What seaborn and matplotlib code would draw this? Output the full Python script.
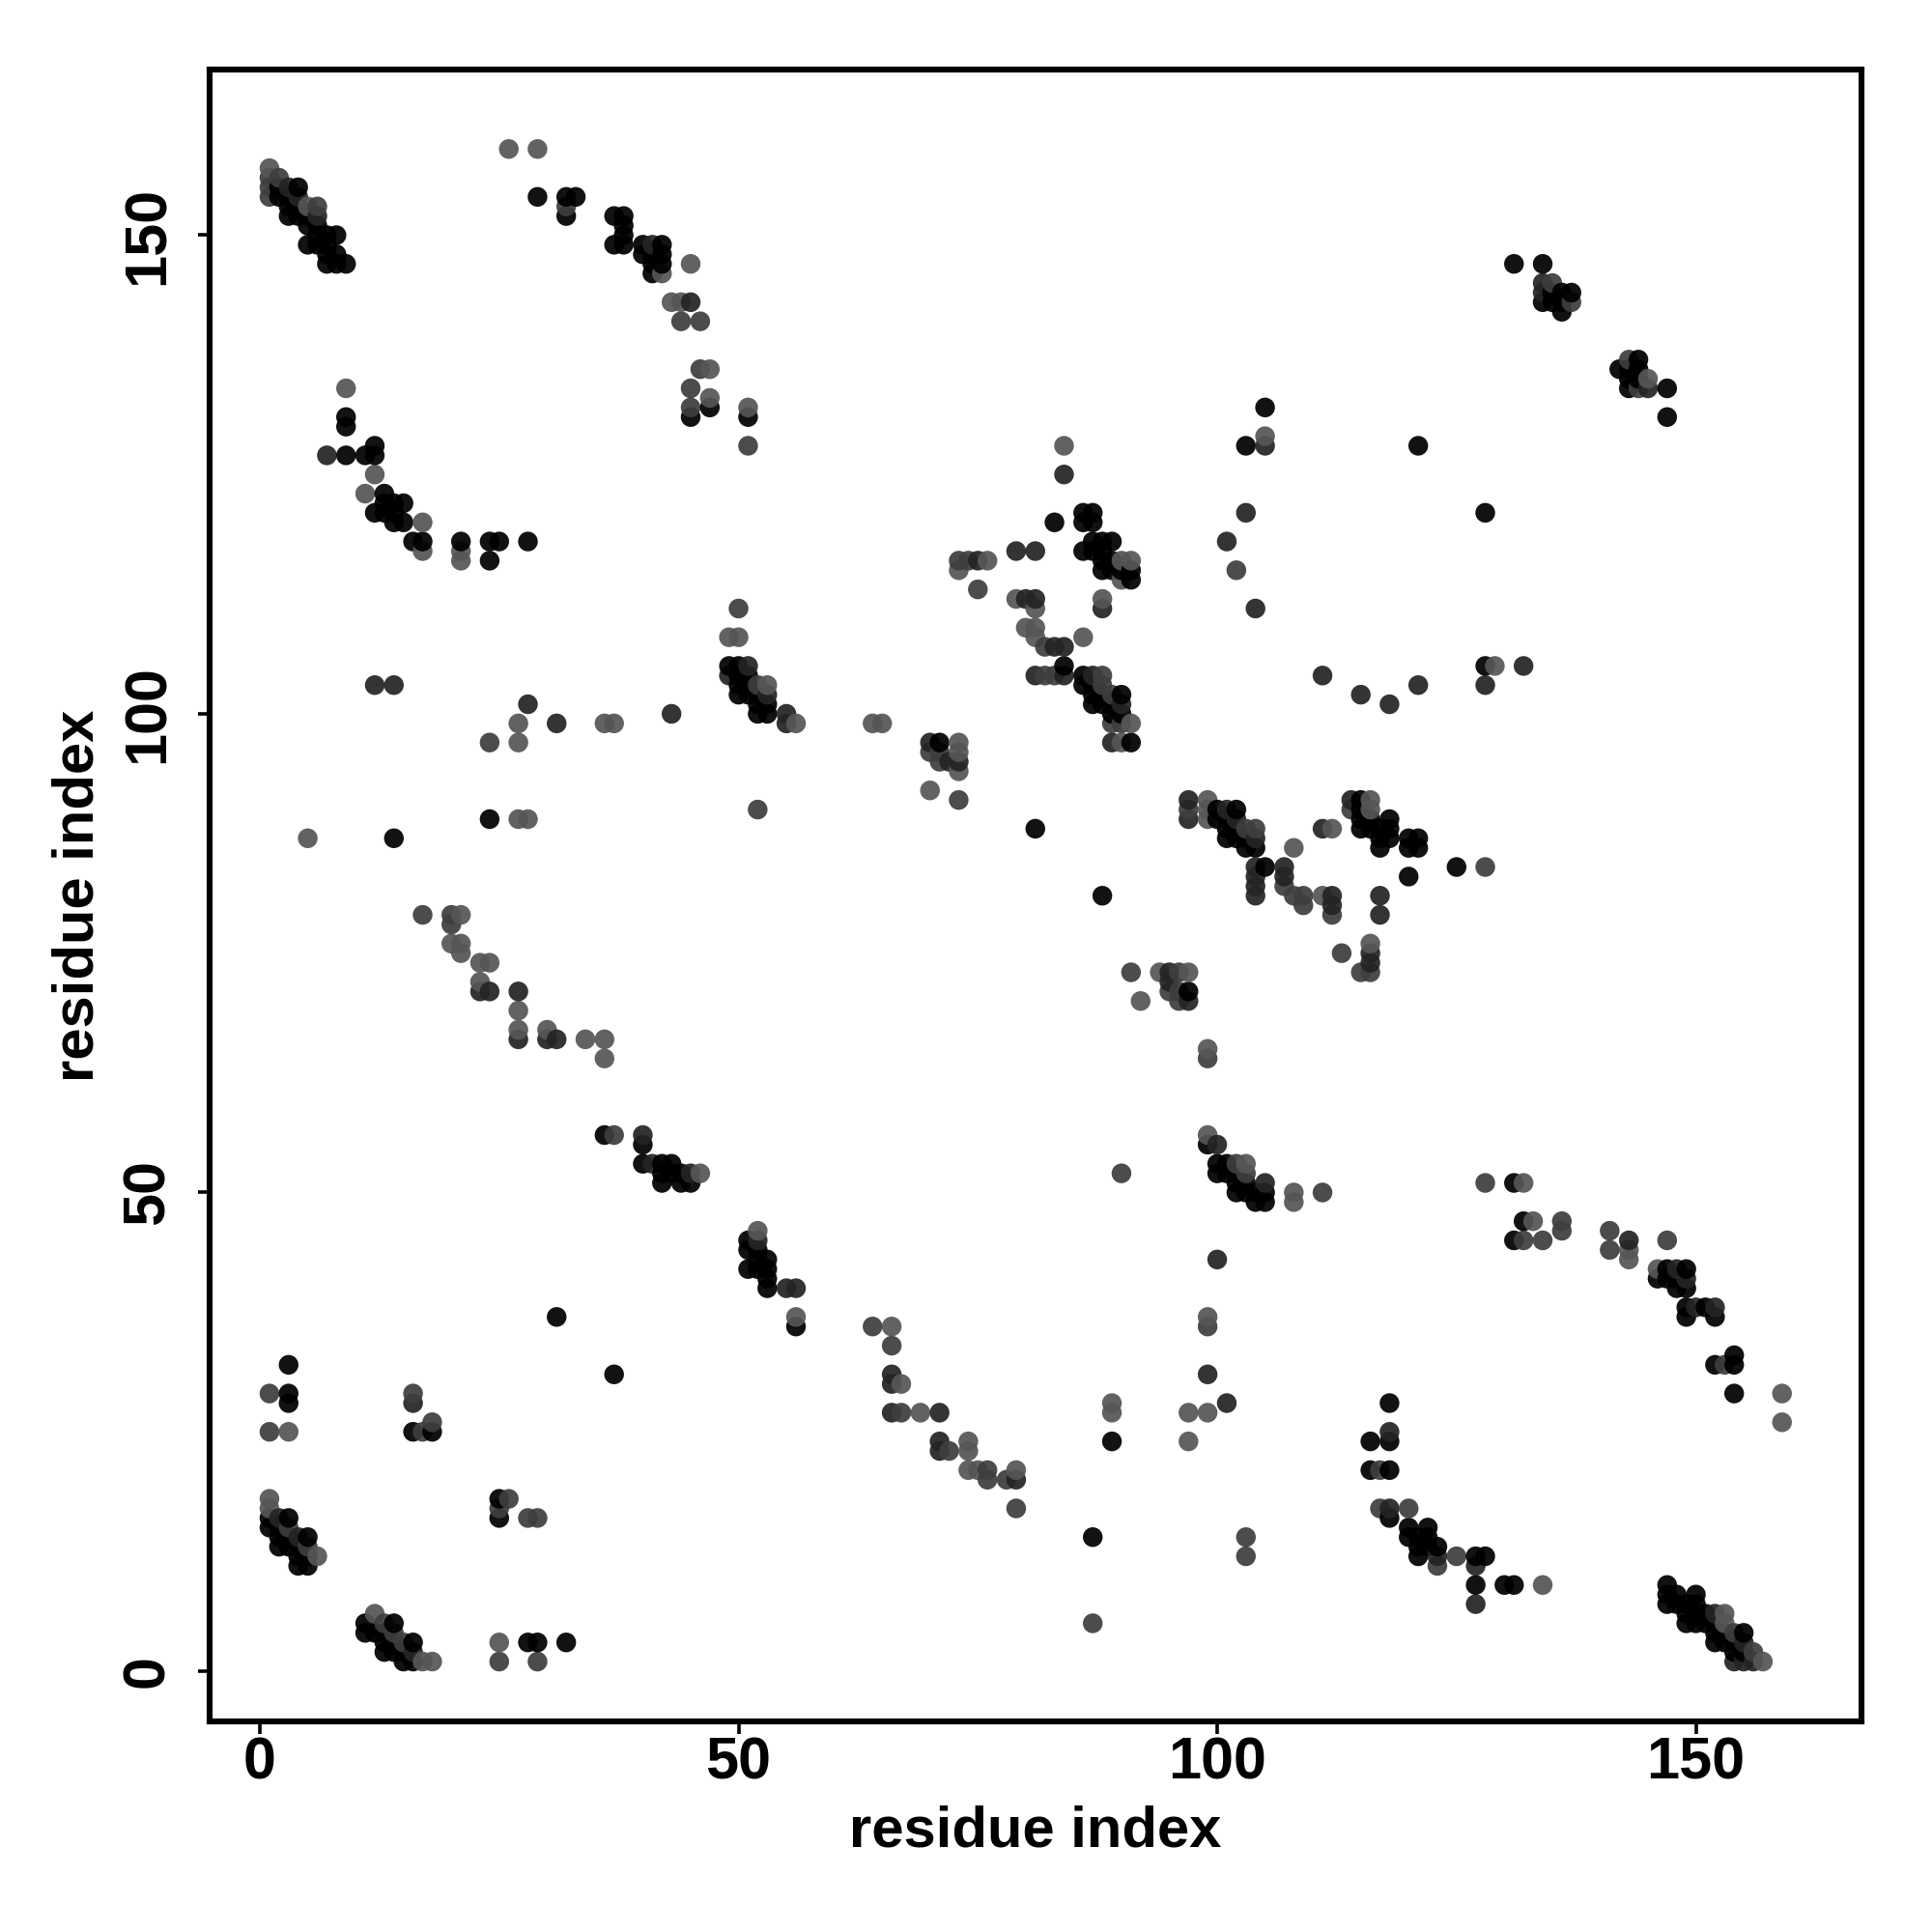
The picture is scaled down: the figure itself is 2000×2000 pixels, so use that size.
import pandas as pd
import seaborn as sns
from matplotlib import pyplot as plt

# contacts (residue i, residue j), one list per score level
dark_contacts = [
    (2,155),(2,154),(3,154),(3,153),(3,152),(4,155),(4,153),(4,152),(5,152),(5,151),(5,149),(6,151),(6,150),(6,149),
    (7,150),(7,149),(7,148),(7,147),(8,150),(8,148),(8,147),(9,147),
    (29,154),(32,154),(33,154),(32,152),(37,152),(38,152),(38,151),(38,150),(37,149),(38,149),
    (40,149),(40,148),(42,149),(42,148),(42,147),(41,148),(41,147),(41,146),(45,131),(47,132),(51,131),
    (9,131),(9,130),(9,127),(11,127),(12,127),(12,128),(13,123),(13,122),(14,122),(15,122),(12,121),(13,121),(14,121),(14,120),(15,120),
    (16,118),(17,118),(21,118),(24,118),(25,118),(28,118),(24,116),
    (86,121),(87,121),(86,120),(87,120),(83,120),(87,118),(88,118),(89,118),(86,117),(87,117),(88,117),(88,116),(89,116),
    (88,115),(89,115),(90,115),(91,115),(91,114),(84,105),(86,104),(86,103),(87,103),(87,102),(88,102),(87,101),(88,101),(89,101),
    (90,102),(89,100),(90,100),(91,97),
    (49,105),(50,105),(50,104),(51,104),(50,103),(51,103),(50,102),(51,102),(52,102),(52,101),(53,101),(52,100),(53,100),(71,97),
    (24,89),(14,87),(121,128),(128,121),(128,105),(103,128),(105,132),(81,88),(88,81),(89,24),(87,14),(37,31),(31,37),
    (36,56),(40,53),(42,53),(43,53),(42,52),(43,52),(44,52),(42,51),(44,51),(45,51),(40,55),
    (51,45),(51,44),(52,44),(52,43),(53,43),(51,42),(52,42),(53,42),(53,41),(53,40),(56,36),
    (3,32),(3,29),(3,28),(16,25),(18,25),(1,16),(1,15),(3,16),(2,15),(2,14),(3,14),(5,14),(2,13),(3,13),(4,13),(4,12),(5,12),(4,11),(5,11),
    (25,18),(25,16),(11,5),(14,5),(11,4),(12,4),(13,4),(13,3),(14,3),(16,3),(13,2),(14,2),(15,2),(15,1),(16,1),
    (28,3),(29,3),(32,3),
    (118,28),(118,24),(116,24),(118,21),(116,21),(118,16),(120,15),(122,15),(120,14),(121,14),(122,14),(121,13),(122,13),(123,13),(121,12),
    (127,12),(128,12),(127,9),(130,9),(131,9),
    (147,9),(147,8),(148,8),(150,8),(147,7),(148,7),(149,7),(150,7),(149,6),(150,6),(151,6),(149,5),(150,5),(151,5),(152,5),(152,4),(153,4),
    (155,4),(152,3),(153,3),(154,3),(154,2),(155,2),(154,29),(152,32),(154,33),(154,32),
    (99,55),(100,53),(100,52),(101,52),(102,52),(101,53),(102,51),(103,51),(102,50),(103,50),(104,50),(105,50),(104,49),(105,49),(131,51),(132,47),(131,45),
    (147,42),(149,42),(146,41),(147,41),(148,41),(148,40),(149,40),(149,38),(151,38),(149,37),(152,37),
    (100,90),(102,90),(100,89),(101,89),(101,88),(102,88),(101,87),(102,87),(103,87),(103,86),(104,86),(105,84),
    (115,91),(115,90),(115,89),(116,89),(118,89),(115,88),(116,88),(117,88),(118,88),(117,87),(118,87),(117,86),
    (120,87),(121,87),(120,86),(121,86),(125,84),(120,83),(97,71),
    (131,147),(134,147),(134,143),(135,144),(135,143),(136,144),(137,144),(136,143),(136,142),
    (142,136),(144,137),(143,136),(144,136),(143,135),(144,135),(143,134),(147,134),(147,131),
]
mid_contacts = [
    (3,155),(4,154),(6,152),(45,143),(41,149),
    (7,127),(84,125),(79,117),(81,117),(75,116),(80,112),(81,112),(88,111),(83,107),(84,107),(81,104),(84,104),(87,104),(90,101),
    (89,97),(51,105),(49,104),(53,102),(55,100),(55,99),(43,100),(70,97),(72,95),(73,95),
    (12,103),(14,103),(31,99),(28,101),(104,84),(104,83),(104,82),(104,81),(107,84),(107,83),(112,81),(112,80),(111,88),
    (114,91),(97,91),(97,89),(101,90),(102,89),(104,87),(117,81),(117,79),(116,75),(116,74),(95,73),(95,72),(97,70),
    (27,71),(24,71),(23,71),(30,66),(31,66),(27,66),
    (40,56),(41,53),(45,52),(52,45),(55,40),(56,40),(66,31),(66,30),(66,27),(71,27),(71,24),(71,23),(79,20),
    (100,43),(99,31),(101,28),(16,28),(2,16),(4,14),(127,11),(123,12),(118,25),(118,17),(127,7),(16,2),(154,1),(155,1),(156,1),(155,3),(152,6),
    (100,55),(105,51),(143,45),(148,42),(150,38),(152,38),(149,41),(145,134),(134,145),(134,144),(101,118),(103,121),(104,111),(105,128),
    (111,104),(115,102),(118,101),(121,103),(128,103),(132,105),
]
medium_contacts = [
    (1,156),(1,155),(1,154),(2,156),(6,153),(32,153),(46,141),(44,141),(46,136),(45,134),(45,132),(51,128),
    (74,116),(73,116),(75,113),(82,107),(82,104),(83,104),(88,104),(88,103),(89,102),(89,99),(90,99),(50,111),(52,103),
    (70,96),(71,96),(71,95),(73,91),(52,90),(24,97),(97,90),(103,88),(104,88),(107,82),(108,81),(109,81),(109,80),(112,79),(128,84),
    (114,90),(113,75),(116,73),(115,73),(96,73),(95,71),(96,71),(96,70),(17,79),(20,79),(20,78),(37,56),(66,34),(64,36),(76,21),(76,20),(78,20),(72,23),(67,27),(79,17),
    (1,29),(1,25),(16,29),(17,25),(18,26),(26,18),(25,17),(28,16),(29,16),(3,15),(5,13),(13,5),(14,4),(15,3),(156,2),(154,4),(25,1),(29,1),
    (117,21),(117,17),(120,17),(125,12),(123,11),(87,5),(103,14),(103,12),(90,52),(99,36),
    (128,51),(132,45),(134,45),(136,46),(136,47),(141,46),(141,44),(147,45),(153,32),(111,50),(102,53),(103,52),
    (135,145),(137,143),(143,137),(144,134),(102,115),(91,73),(99,64),(86,108),
]
light_contacts = [
    (1,157),(5,153),(26,159),(29,159),(9,134),(12,125),(11,123),(42,146),(45,147),(43,143),(44,143),(47,136),(47,133),(51,132),(17,120),(17,117),(21,117),(21,116),
    (84,128),(76,116),(73,115),(90,116),(91,116),(90,114),(88,112),(79,112),(81,111),(80,109),(81,109),(81,108),(86,108),(90,97),(91,99),
    (53,103),(49,108),(50,108),(56,99),(64,99),(65,99),(73,97),(73,96),(73,94),(70,92),
    (27,97),(27,99),(36,99),(37,99),(27,89),(28,89),(5,87),
    (99,91),(99,90),(99,89),(108,86),(111,81),(112,88),(116,91),(116,90),(116,76),(94,73),(97,73),(92,70),(99,65),(129,105),(105,129),
    (21,79),(20,76),(21,76),(21,75),(23,74),(24,74),(23,72),(27,69),(27,67),(30,67),(34,66),(36,66),(36,64),
    (46,52),(52,46),(56,37),(66,36),(67,30),(69,27),(74,24),(74,23),(74,21),(75,21),(79,21),
    (3,25),(1,18),(1,17),(6,12),(12,6),(17,1),(18,1),(25,3),(134,9),(157,1),(153,6),(153,5),(159,29),(159,26),
    (99,56),(103,53),(108,50),(108,49),(133,47),(132,51),(143,44),(143,43),(146,42),(145,135),(99,37),(97,27),(99,27),(97,24),(89,28),(89,27),
]

level_names = ['dark', 'mid', 'medium', 'light']
level_colors = {'dark': '#000000', 'mid': '#242424', 'medium': '#3e3e3e', 'light': '#565656'}

rows = []
for name, contacts in zip(level_names, [dark_contacts, mid_contacts, medium_contacts, light_contacts]):
    for i, j in contacts:
        rows.append((i, j, name))
df = pd.DataFrame(rows, columns=['i', 'j', 'level'])
df = df.drop_duplicates(['i', 'j'], keep='last').sort_values(['i', 'j'])

sns.set_style('white')
plt.rcParams['font.family'] = ['Liberation Sans', 'DejaVu Sans']
plt.rcParams['text.color'] = 'black'
plt.rcParams['axes.labelcolor'] = 'black'
plt.rcParams['xtick.labelcolor'] = 'black'
plt.rcParams['ytick.labelcolor'] = 'black'
fig = plt.figure(figsize=(10, 10), dpi=200)
ax = fig.add_axes([217 / 2000, 1 - 1782 / 2000, (1927 - 217) / 2000, (1782 - 72) / 2000])

sns.scatterplot(data=df, x='i', y='j', hue='level', palette=level_colors, s=54, alpha=0.93,
                linewidth=0, legend=False, ax=ax)

ax.set_xlim(-5.25, 167.3)
ax.set_ylim(-5.25, 167.3)
ax.set_xticks([0, 50, 100, 150])
ax.set_yticks([0, 50, 100, 150])
ax.tick_params(axis='both', length=4.5, width=1.3, color='black', labelsize=22, bottom=True, left=True)
ax.tick_params(axis='x', pad=1)
ax.tick_params(axis='y', pad=8)
for label in ax.get_xticklabels():
    label.set_fontweight('bold')
for label in ax.get_yticklabels():
    label.set_fontweight('bold')
    label.set_rotation(90)
    label.set_va('center')
ax.set_xlabel('residue index', fontsize=21.5, fontweight='bold', labelpad=5)
ax.set_ylabel('residue index', fontsize=21.5, fontweight='bold', labelpad=6)
for spine in ax.spines.values():
    spine.set_visible(True)
    spine.set_color('black')
    spine.set_linewidth(2.2)

plt.savefig('out.png', dpi=200)
